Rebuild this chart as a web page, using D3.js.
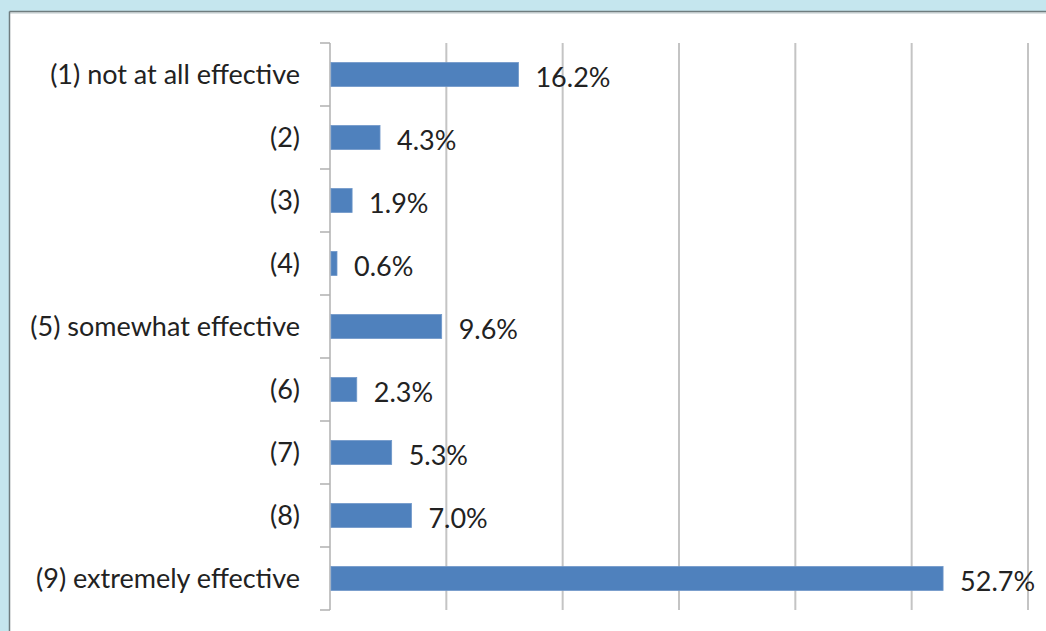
<!DOCTYPE html>
<html>
<head>
<meta charset="utf-8">
<script src="https://cdn.jsdelivr.net/npm/d3@7"></script>
<style>
  html, body { margin: 0; padding: 0; background: #c5e6ee; }
  svg { display: block; }
</style>
</head>
<body>
<svg id="chart" width="1046" height="631"></svg>
<script>
// Survey responses: perceived effectiveness, share of respondents
const categories = [
  "(1) not at all effective", "(2)", "(3)", "(4)",
  "(5) somewhat effective", "(6)", "(7)", "(8)",
  "(9) extremely effective"
];
const values = [16.2, 4.3, 1.9, 0.6, 9.6, 2.3, 5.3, 7.0, 52.7];
const xTicks = [0, 10, 20, 30, 40, 50, 60];

const svg = d3.select("#chart");
const W = 1046, H = 631;
const font = "Lato, 'Open Sans', sans-serif";
const fontSize = 27;

// white chart panel with dark top/left border
svg.append("rect").attr("x", 10).attr("y", 12).attr("width", W).attr("height", H)
  .attr("fill", "#ffffff");
svg.append("line").attr("x1", 10).attr("x2", W).attr("y1", 13).attr("y2", 13)
  .attr("stroke", "#dde3e4").attr("stroke-width", 2);
svg.append("line").attr("x1", 9.5).attr("x2", W).attr("y1", 11.5).attr("y2", 11.5)
  .attr("stroke", "#6f7d7f").attr("stroke-width", 1.5);
svg.append("line").attr("x1", 9.5).attr("x2", 9.5).attr("y1", 11.5).attr("y2", H)
  .attr("stroke", "#6f7d7f").attr("stroke-width", 1.5);

const x0 = 330, x1 = 1028, yTop = 43, yBot = 610;

const x = d3.scaleLinear().domain([0, 60]).range([x0, x1]);
const y = d3.scaleBand().domain(categories).range([yTop, yBot]).paddingInner(0.62).paddingOuter(0.31);
const band = d3.scaleBand().domain(categories).range([yTop, yBot]);

// vertical gridlines
svg.append("g").selectAll("line").data(xTicks.slice(1)).join("line")
  .attr("x1", d => x(d)).attr("x2", d => x(d))
  .attr("y1", yTop).attr("y2", yBot)
  .attr("stroke", "#c4c4c4").attr("stroke-width", 2);

// category axis with boundary ticks
const ax = svg.append("g");
ax.append("line").attr("x1", x0).attr("x2", x0).attr("y1", yTop).attr("y2", yBot)
  .attr("stroke", "#b0b0b0").attr("stroke-width", 1.5);
const bounds = categories.map(c => band(c)).concat([yBot]);
ax.selectAll("line.tk").data(bounds).join("line").attr("class", "tk")
  .attr("x1", x0 - 10).attr("x2", x0)
  .attr("y1", d => d).attr("y2", d => d)
  .attr("stroke", "#b0b0b0").attr("stroke-width", 1.5);

// category labels
svg.append("g").selectAll("text").data(categories).join("text")
  .attr("x", 300).attr("y", d => band(d) + band.bandwidth() / 2 - 1)
  .attr("text-anchor", "end").attr("dominant-baseline", "central")
  .attr("font-family", font).attr("font-size", fontSize).attr("fill", "#222222")
  .text(d => d);

// bars
const data = categories.map((c, i) => ({ c, v: values[i] }));
svg.append("g").selectAll("rect").data(data).join("rect")
  .attr("x", x(0) + 1).attr("y", d => y(d.c))
  .attr("width", d => x(d.v) - x(0) - 1).attr("height", y.bandwidth())
  .attr("fill", "#4f81bd").attr("stroke", "#6f97c9").attr("stroke-width", 0.8);

// value labels
svg.append("g").selectAll("text").data(data).join("text")
  .attr("x", d => x(d.v) + 17).attr("y", d => y(d.c) + y.bandwidth() / 2 + 2)
  .attr("dominant-baseline", "central")
  .attr("font-family", font).attr("font-size", fontSize).attr("fill", "#222222")
  .text(d => d.v.toFixed(1) + "%");
</script>
</body>
</html>
